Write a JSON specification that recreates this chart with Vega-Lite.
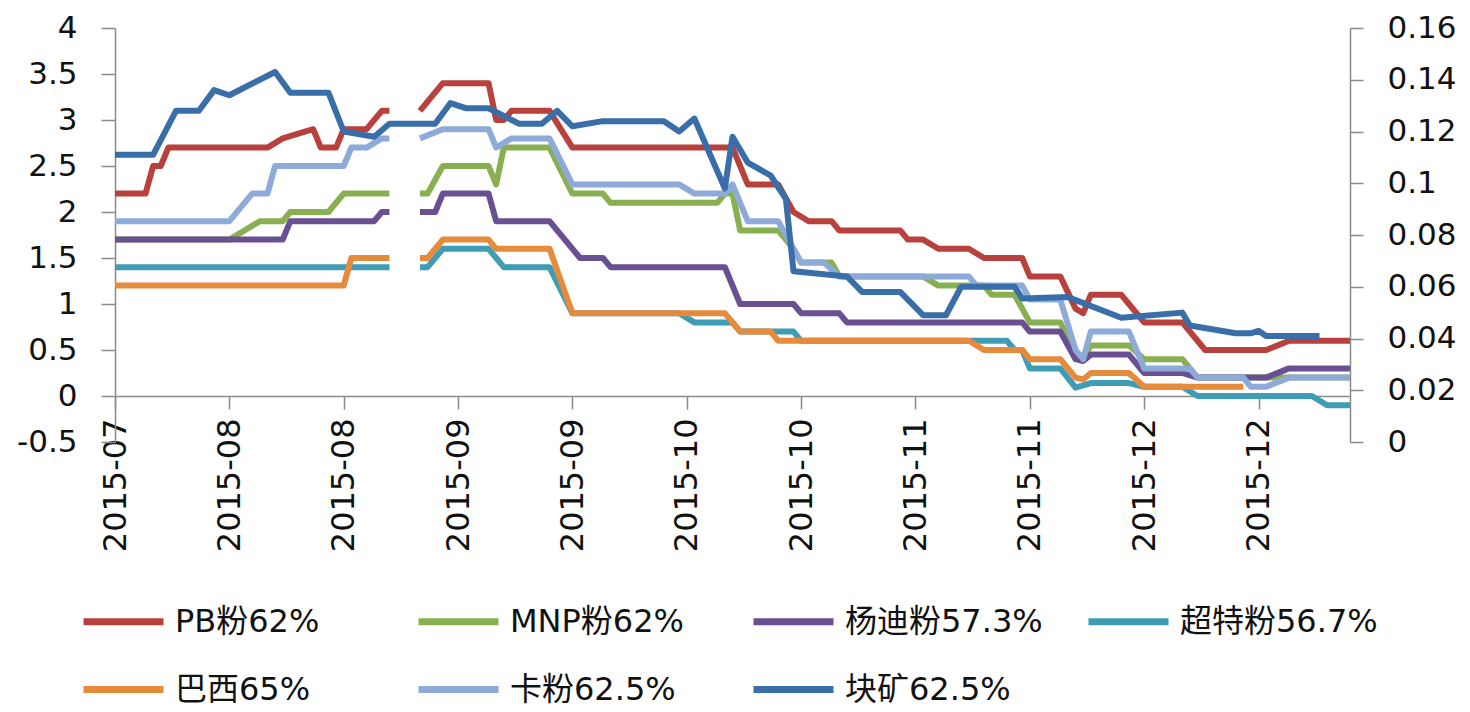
{
  "$schema": "https://vega.github.io/schema/vega-lite/v6.json",
  "width": 1235,
  "height": 414,
  "autosize": {"type": "none"},
  "padding": {"left": 115, "top": 28, "right": 120, "bottom": 270},
  "background": "white",
  "config": {
    "view": {"stroke": null},
    "font": "DejaVu Sans, Noto Sans CJK SC",
    "axis": {"grid": false, "title": null, "domainColor": "#8a8a8a", "tickColor": "#8a8a8a", "domainWidth": 1.5, "tickWidth": 1.5, "labelColor": "#111111", "labelFont": "DejaVu Sans", "labelFontSize": 31}
  },
  "datasets": {
    "primary": [
      {"date": "2015-07-20", "series": "PB粉62%", "v": 2.2},
      {"date": "2015-07-24", "series": "PB粉62%", "v": 2.2},
      {"date": "2015-07-25", "series": "PB粉62%", "v": 2.5},
      {"date": "2015-07-26", "series": "PB粉62%", "v": 2.5},
      {"date": "2015-07-27", "series": "PB粉62%", "v": 2.7},
      {"date": "2015-08-09", "series": "PB粉62%", "v": 2.7},
      {"date": "2015-08-11", "series": "PB粉62%", "v": 2.8},
      {"date": "2015-08-15", "series": "PB粉62%", "v": 2.9},
      {"date": "2015-08-16", "series": "PB粉62%", "v": 2.7},
      {"date": "2015-08-18", "series": "PB粉62%", "v": 2.7},
      {"date": "2015-08-19", "series": "PB粉62%", "v": 2.9},
      {"date": "2015-08-22", "series": "PB粉62%", "v": 2.9},
      {"date": "2015-08-24", "series": "PB粉62%", "v": 3.1},
      {"date": "2015-08-25", "series": "PB粉62%", "v": 3.1},
      {"date": "2015-08-27", "series": "PB粉62%", "v": null},
      {"date": "2015-08-29", "series": "PB粉62%", "v": 3.1},
      {"date": "2015-09-01", "series": "PB粉62%", "v": 3.4},
      {"date": "2015-09-07", "series": "PB粉62%", "v": 3.4},
      {"date": "2015-09-08", "series": "PB粉62%", "v": 3.0},
      {"date": "2015-09-09", "series": "PB粉62%", "v": 3.0},
      {"date": "2015-09-10", "series": "PB粉62%", "v": 3.1},
      {"date": "2015-09-15", "series": "PB粉62%", "v": 3.1},
      {"date": "2015-09-18", "series": "PB粉62%", "v": 2.7},
      {"date": "2015-10-09", "series": "PB粉62%", "v": 2.7},
      {"date": "2015-10-11", "series": "PB粉62%", "v": 2.3},
      {"date": "2015-10-15", "series": "PB粉62%", "v": 2.3},
      {"date": "2015-10-17", "series": "PB粉62%", "v": 2.0},
      {"date": "2015-10-19", "series": "PB粉62%", "v": 1.9},
      {"date": "2015-10-22", "series": "PB粉62%", "v": 1.9},
      {"date": "2015-10-23", "series": "PB粉62%", "v": 1.8},
      {"date": "2015-10-31", "series": "PB粉62%", "v": 1.8},
      {"date": "2015-11-01", "series": "PB粉62%", "v": 1.7},
      {"date": "2015-11-03", "series": "PB粉62%", "v": 1.7},
      {"date": "2015-11-05", "series": "PB粉62%", "v": 1.6},
      {"date": "2015-11-09", "series": "PB粉62%", "v": 1.6},
      {"date": "2015-11-11", "series": "PB粉62%", "v": 1.5},
      {"date": "2015-11-16", "series": "PB粉62%", "v": 1.5},
      {"date": "2015-11-17", "series": "PB粉62%", "v": 1.3},
      {"date": "2015-11-21", "series": "PB粉62%", "v": 1.3},
      {"date": "2015-11-23", "series": "PB粉62%", "v": 0.95},
      {"date": "2015-11-24", "series": "PB粉62%", "v": 0.9},
      {"date": "2015-11-25", "series": "PB粉62%", "v": 1.1},
      {"date": "2015-11-29", "series": "PB粉62%", "v": 1.1},
      {"date": "2015-11-30", "series": "PB粉62%", "v": 1.0},
      {"date": "2015-12-02", "series": "PB粉62%", "v": 0.8},
      {"date": "2015-12-07", "series": "PB粉62%", "v": 0.8},
      {"date": "2015-12-10", "series": "PB粉62%", "v": 0.5},
      {"date": "2015-12-18", "series": "PB粉62%", "v": 0.5},
      {"date": "2015-12-21", "series": "PB粉62%", "v": 0.6},
      {"date": "2015-12-29", "series": "PB粉62%", "v": 0.6},

      {"date": "2015-07-20", "series": "MNP粉62%", "v": 1.7},
      {"date": "2015-08-04", "series": "MNP粉62%", "v": 1.7},
      {"date": "2015-08-08", "series": "MNP粉62%", "v": 1.9},
      {"date": "2015-08-11", "series": "MNP粉62%", "v": 1.9},
      {"date": "2015-08-12", "series": "MNP粉62%", "v": 2.0},
      {"date": "2015-08-17", "series": "MNP粉62%", "v": 2.0},
      {"date": "2015-08-19", "series": "MNP粉62%", "v": 2.2},
      {"date": "2015-08-25", "series": "MNP粉62%", "v": 2.2},
      {"date": "2015-08-27", "series": "MNP粉62%", "v": null},
      {"date": "2015-08-29", "series": "MNP粉62%", "v": 2.2},
      {"date": "2015-08-30", "series": "MNP粉62%", "v": 2.2},
      {"date": "2015-09-01", "series": "MNP粉62%", "v": 2.5},
      {"date": "2015-09-07", "series": "MNP粉62%", "v": 2.5},
      {"date": "2015-09-08", "series": "MNP粉62%", "v": 2.3},
      {"date": "2015-09-09", "series": "MNP粉62%", "v": 2.7},
      {"date": "2015-09-15", "series": "MNP粉62%", "v": 2.7},
      {"date": "2015-09-18", "series": "MNP粉62%", "v": 2.2},
      {"date": "2015-09-22", "series": "MNP粉62%", "v": 2.2},
      {"date": "2015-09-23", "series": "MNP粉62%", "v": 2.1},
      {"date": "2015-10-07", "series": "MNP粉62%", "v": 2.1},
      {"date": "2015-10-08", "series": "MNP粉62%", "v": 2.2},
      {"date": "2015-10-09", "series": "MNP粉62%", "v": 2.2},
      {"date": "2015-10-10", "series": "MNP粉62%", "v": 1.8},
      {"date": "2015-10-15", "series": "MNP粉62%", "v": 1.8},
      {"date": "2015-10-17", "series": "MNP粉62%", "v": 1.6},
      {"date": "2015-10-18", "series": "MNP粉62%", "v": 1.45},
      {"date": "2015-10-22", "series": "MNP粉62%", "v": 1.45},
      {"date": "2015-10-23", "series": "MNP粉62%", "v": 1.3},
      {"date": "2015-11-03", "series": "MNP粉62%", "v": 1.3},
      {"date": "2015-11-05", "series": "MNP粉62%", "v": 1.2},
      {"date": "2015-11-11", "series": "MNP粉62%", "v": 1.2},
      {"date": "2015-11-12", "series": "MNP粉62%", "v": 1.1},
      {"date": "2015-11-15", "series": "MNP粉62%", "v": 1.1},
      {"date": "2015-11-17", "series": "MNP粉62%", "v": 0.8},
      {"date": "2015-11-21", "series": "MNP粉62%", "v": 0.8},
      {"date": "2015-11-23", "series": "MNP粉62%", "v": 0.45},
      {"date": "2015-11-24", "series": "MNP粉62%", "v": 0.4},
      {"date": "2015-11-25", "series": "MNP粉62%", "v": 0.55},
      {"date": "2015-11-30", "series": "MNP粉62%", "v": 0.55},
      {"date": "2015-12-02", "series": "MNP粉62%", "v": 0.4},
      {"date": "2015-12-07", "series": "MNP粉62%", "v": 0.4},
      {"date": "2015-12-09", "series": "MNP粉62%", "v": 0.2},
      {"date": "2015-12-29", "series": "MNP粉62%", "v": 0.2},

      {"date": "2015-07-20", "series": "杨迪粉57.3%", "v": 1.7},
      {"date": "2015-08-11", "series": "杨迪粉57.3%", "v": 1.7},
      {"date": "2015-08-12", "series": "杨迪粉57.3%", "v": 1.9},
      {"date": "2015-08-23", "series": "杨迪粉57.3%", "v": 1.9},
      {"date": "2015-08-24", "series": "杨迪粉57.3%", "v": 2.0},
      {"date": "2015-08-25", "series": "杨迪粉57.3%", "v": 2.0},
      {"date": "2015-08-27", "series": "杨迪粉57.3%", "v": null},
      {"date": "2015-08-29", "series": "杨迪粉57.3%", "v": 2.0},
      {"date": "2015-08-31", "series": "杨迪粉57.3%", "v": 2.0},
      {"date": "2015-09-01", "series": "杨迪粉57.3%", "v": 2.2},
      {"date": "2015-09-07", "series": "杨迪粉57.3%", "v": 2.2},
      {"date": "2015-09-08", "series": "杨迪粉57.3%", "v": 1.9},
      {"date": "2015-09-15", "series": "杨迪粉57.3%", "v": 1.9},
      {"date": "2015-09-19", "series": "杨迪粉57.3%", "v": 1.5},
      {"date": "2015-09-22", "series": "杨迪粉57.3%", "v": 1.5},
      {"date": "2015-09-23", "series": "杨迪粉57.3%", "v": 1.4},
      {"date": "2015-10-08", "series": "杨迪粉57.3%", "v": 1.4},
      {"date": "2015-10-10", "series": "杨迪粉57.3%", "v": 1.0},
      {"date": "2015-10-17", "series": "杨迪粉57.3%", "v": 1.0},
      {"date": "2015-10-18", "series": "杨迪粉57.3%", "v": 0.9},
      {"date": "2015-10-23", "series": "杨迪粉57.3%", "v": 0.9},
      {"date": "2015-10-24", "series": "杨迪粉57.3%", "v": 0.8},
      {"date": "2015-11-16", "series": "杨迪粉57.3%", "v": 0.8},
      {"date": "2015-11-17", "series": "杨迪粉57.3%", "v": 0.7},
      {"date": "2015-11-21", "series": "杨迪粉57.3%", "v": 0.7},
      {"date": "2015-11-23", "series": "杨迪粉57.3%", "v": 0.4},
      {"date": "2015-11-24", "series": "杨迪粉57.3%", "v": 0.38},
      {"date": "2015-11-25", "series": "杨迪粉57.3%", "v": 0.45},
      {"date": "2015-11-30", "series": "杨迪粉57.3%", "v": 0.45},
      {"date": "2015-12-02", "series": "杨迪粉57.3%", "v": 0.25},
      {"date": "2015-12-07", "series": "杨迪粉57.3%", "v": 0.25},
      {"date": "2015-12-09", "series": "杨迪粉57.3%", "v": 0.2},
      {"date": "2015-12-18", "series": "杨迪粉57.3%", "v": 0.2},
      {"date": "2015-12-21", "series": "杨迪粉57.3%", "v": 0.3},
      {"date": "2015-12-29", "series": "杨迪粉57.3%", "v": 0.3},

      {"date": "2015-07-20", "series": "超特粉56.7%", "v": 1.4},
      {"date": "2015-08-25", "series": "超特粉56.7%", "v": 1.4},
      {"date": "2015-08-27", "series": "超特粉56.7%", "v": null},
      {"date": "2015-08-29", "series": "超特粉56.7%", "v": 1.4},
      {"date": "2015-08-30", "series": "超特粉56.7%", "v": 1.4},
      {"date": "2015-09-01", "series": "超特粉56.7%", "v": 1.6},
      {"date": "2015-09-07", "series": "超特粉56.7%", "v": 1.6},
      {"date": "2015-09-09", "series": "超特粉56.7%", "v": 1.4},
      {"date": "2015-09-15", "series": "超特粉56.7%", "v": 1.4},
      {"date": "2015-09-18", "series": "超特粉56.7%", "v": 0.9},
      {"date": "2015-10-02", "series": "超特粉56.7%", "v": 0.9},
      {"date": "2015-10-04", "series": "超特粉56.7%", "v": 0.8},
      {"date": "2015-10-09", "series": "超特粉56.7%", "v": 0.8},
      {"date": "2015-10-10", "series": "超特粉56.7%", "v": 0.7},
      {"date": "2015-10-17", "series": "超特粉56.7%", "v": 0.7},
      {"date": "2015-10-18", "series": "超特粉56.7%", "v": 0.6},
      {"date": "2015-11-14", "series": "超特粉56.7%", "v": 0.6},
      {"date": "2015-11-15", "series": "超特粉56.7%", "v": 0.5},
      {"date": "2015-11-16", "series": "超特粉56.7%", "v": 0.5},
      {"date": "2015-11-17", "series": "超特粉56.7%", "v": 0.3},
      {"date": "2015-11-21", "series": "超特粉56.7%", "v": 0.3},
      {"date": "2015-11-23", "series": "超特粉56.7%", "v": 0.09},
      {"date": "2015-11-25", "series": "超特粉56.7%", "v": 0.14},
      {"date": "2015-11-30", "series": "超特粉56.7%", "v": 0.14},
      {"date": "2015-12-02", "series": "超特粉56.7%", "v": 0.1},
      {"date": "2015-12-07", "series": "超特粉56.7%", "v": 0.1},
      {"date": "2015-12-09", "series": "超特粉56.7%", "v": 0.0},
      {"date": "2015-12-24", "series": "超特粉56.7%", "v": 0.0},
      {"date": "2015-12-26", "series": "超特粉56.7%", "v": -0.1},
      {"date": "2015-12-29", "series": "超特粉56.7%", "v": -0.1},

      {"date": "2015-07-20", "series": "巴西65%", "v": 1.2},
      {"date": "2015-08-19", "series": "巴西65%", "v": 1.2},
      {"date": "2015-08-20", "series": "巴西65%", "v": 1.5},
      {"date": "2015-08-25", "series": "巴西65%", "v": 1.5},
      {"date": "2015-08-27", "series": "巴西65%", "v": null},
      {"date": "2015-08-29", "series": "巴西65%", "v": 1.5},
      {"date": "2015-08-30", "series": "巴西65%", "v": 1.5},
      {"date": "2015-09-01", "series": "巴西65%", "v": 1.7},
      {"date": "2015-09-07", "series": "巴西65%", "v": 1.7},
      {"date": "2015-09-08", "series": "巴西65%", "v": 1.6},
      {"date": "2015-09-15", "series": "巴西65%", "v": 1.6},
      {"date": "2015-09-18", "series": "巴西65%", "v": 0.9},
      {"date": "2015-10-08", "series": "巴西65%", "v": 0.9},
      {"date": "2015-10-10", "series": "巴西65%", "v": 0.7},
      {"date": "2015-10-14", "series": "巴西65%", "v": 0.7},
      {"date": "2015-10-15", "series": "巴西65%", "v": 0.6},
      {"date": "2015-11-09", "series": "巴西65%", "v": 0.6},
      {"date": "2015-11-11", "series": "巴西65%", "v": 0.5},
      {"date": "2015-11-16", "series": "巴西65%", "v": 0.5},
      {"date": "2015-11-17", "series": "巴西65%", "v": 0.4},
      {"date": "2015-11-21", "series": "巴西65%", "v": 0.4},
      {"date": "2015-11-23", "series": "巴西65%", "v": 0.2},
      {"date": "2015-11-24", "series": "巴西65%", "v": 0.18},
      {"date": "2015-11-25", "series": "巴西65%", "v": 0.25},
      {"date": "2015-11-30", "series": "巴西65%", "v": 0.25},
      {"date": "2015-12-02", "series": "巴西65%", "v": 0.1},
      {"date": "2015-12-15", "series": "巴西65%", "v": 0.1},

      {"date": "2015-07-20", "series": "卡粉62.5%", "v": 1.9},
      {"date": "2015-08-04", "series": "卡粉62.5%", "v": 1.9},
      {"date": "2015-08-07", "series": "卡粉62.5%", "v": 2.2},
      {"date": "2015-08-09", "series": "卡粉62.5%", "v": 2.2},
      {"date": "2015-08-10", "series": "卡粉62.5%", "v": 2.5},
      {"date": "2015-08-19", "series": "卡粉62.5%", "v": 2.5},
      {"date": "2015-08-20", "series": "卡粉62.5%", "v": 2.7},
      {"date": "2015-08-22", "series": "卡粉62.5%", "v": 2.7},
      {"date": "2015-08-24", "series": "卡粉62.5%", "v": 2.8},
      {"date": "2015-08-25", "series": "卡粉62.5%", "v": 2.8},
      {"date": "2015-08-27", "series": "卡粉62.5%", "v": null},
      {"date": "2015-08-29", "series": "卡粉62.5%", "v": 2.8},
      {"date": "2015-09-01", "series": "卡粉62.5%", "v": 2.9},
      {"date": "2015-09-07", "series": "卡粉62.5%", "v": 2.9},
      {"date": "2015-09-08", "series": "卡粉62.5%", "v": 2.7},
      {"date": "2015-09-10", "series": "卡粉62.5%", "v": 2.8},
      {"date": "2015-09-15", "series": "卡粉62.5%", "v": 2.8},
      {"date": "2015-09-18", "series": "卡粉62.5%", "v": 2.3},
      {"date": "2015-10-02", "series": "卡粉62.5%", "v": 2.3},
      {"date": "2015-10-04", "series": "卡粉62.5%", "v": 2.2},
      {"date": "2015-10-08", "series": "卡粉62.5%", "v": 2.2},
      {"date": "2015-10-09", "series": "卡粉62.5%", "v": 2.3},
      {"date": "2015-10-11", "series": "卡粉62.5%", "v": 1.9},
      {"date": "2015-10-15", "series": "卡粉62.5%", "v": 1.9},
      {"date": "2015-10-18", "series": "卡粉62.5%", "v": 1.45},
      {"date": "2015-10-21", "series": "卡粉62.5%", "v": 1.45},
      {"date": "2015-10-23", "series": "卡粉62.5%", "v": 1.3},
      {"date": "2015-11-09", "series": "卡粉62.5%", "v": 1.3},
      {"date": "2015-11-10", "series": "卡粉62.5%", "v": 1.2},
      {"date": "2015-11-16", "series": "卡粉62.5%", "v": 1.2},
      {"date": "2015-11-17", "series": "卡粉62.5%", "v": 1.05},
      {"date": "2015-11-21", "series": "卡粉62.5%", "v": 1.05},
      {"date": "2015-11-23", "series": "卡粉62.5%", "v": 0.5},
      {"date": "2015-11-24", "series": "卡粉62.5%", "v": 0.4},
      {"date": "2015-11-25", "series": "卡粉62.5%", "v": 0.7},
      {"date": "2015-11-30", "series": "卡粉62.5%", "v": 0.7},
      {"date": "2015-12-02", "series": "卡粉62.5%", "v": 0.3},
      {"date": "2015-12-08", "series": "卡粉62.5%", "v": 0.3},
      {"date": "2015-12-09", "series": "卡粉62.5%", "v": 0.2},
      {"date": "2015-12-15", "series": "卡粉62.5%", "v": 0.2},
      {"date": "2015-12-16", "series": "卡粉62.5%", "v": 0.1},
      {"date": "2015-12-18", "series": "卡粉62.5%", "v": 0.1},
      {"date": "2015-12-21", "series": "卡粉62.5%", "v": 0.2},
      {"date": "2015-12-29", "series": "卡粉62.5%", "v": 0.2}
    ],
    "block": [
      {"date": "2015-07-20", "series": "块矿62.5%", "v": 0.111},
      {"date": "2015-07-25", "series": "块矿62.5%", "v": 0.111},
      {"date": "2015-07-28", "series": "块矿62.5%", "v": 0.128},
      {"date": "2015-07-31", "series": "块矿62.5%", "v": 0.128},
      {"date": "2015-08-02", "series": "块矿62.5%", "v": 0.136},
      {"date": "2015-08-04", "series": "块矿62.5%", "v": 0.134},
      {"date": "2015-08-10", "series": "块矿62.5%", "v": 0.143},
      {"date": "2015-08-12", "series": "块矿62.5%", "v": 0.135},
      {"date": "2015-08-17", "series": "块矿62.5%", "v": 0.135},
      {"date": "2015-08-19", "series": "块矿62.5%", "v": 0.12},
      {"date": "2015-08-23", "series": "块矿62.5%", "v": 0.118},
      {"date": "2015-08-25", "series": "块矿62.5%", "v": 0.123},
      {"date": "2015-08-31", "series": "块矿62.5%", "v": 0.123},
      {"date": "2015-09-02", "series": "块矿62.5%", "v": 0.131},
      {"date": "2015-09-04", "series": "块矿62.5%", "v": 0.129},
      {"date": "2015-09-07", "series": "块矿62.5%", "v": 0.129},
      {"date": "2015-09-11", "series": "块矿62.5%", "v": 0.123},
      {"date": "2015-09-14", "series": "块矿62.5%", "v": 0.123},
      {"date": "2015-09-16", "series": "块矿62.5%", "v": 0.128},
      {"date": "2015-09-18", "series": "块矿62.5%", "v": 0.122},
      {"date": "2015-09-22", "series": "块矿62.5%", "v": 0.124},
      {"date": "2015-09-30", "series": "块矿62.5%", "v": 0.124},
      {"date": "2015-10-02", "series": "块矿62.5%", "v": 0.12},
      {"date": "2015-10-04", "series": "块矿62.5%", "v": 0.125},
      {"date": "2015-10-08", "series": "块矿62.5%", "v": 0.098},
      {"date": "2015-10-09", "series": "块矿62.5%", "v": 0.118},
      {"date": "2015-10-11", "series": "块矿62.5%", "v": 0.108},
      {"date": "2015-10-14", "series": "块矿62.5%", "v": 0.103},
      {"date": "2015-10-16", "series": "块矿62.5%", "v": 0.094},
      {"date": "2015-10-17", "series": "块矿62.5%", "v": 0.066},
      {"date": "2015-10-24", "series": "块矿62.5%", "v": 0.064},
      {"date": "2015-10-26", "series": "块矿62.5%", "v": 0.058},
      {"date": "2015-10-31", "series": "块矿62.5%", "v": 0.058},
      {"date": "2015-11-03", "series": "块矿62.5%", "v": 0.049},
      {"date": "2015-11-06", "series": "块矿62.5%", "v": 0.049},
      {"date": "2015-11-08", "series": "块矿62.5%", "v": 0.06},
      {"date": "2015-11-15", "series": "块矿62.5%", "v": 0.06},
      {"date": "2015-11-16", "series": "块矿62.5%", "v": 0.0555},
      {"date": "2015-11-22", "series": "块矿62.5%", "v": 0.056},
      {"date": "2015-11-29", "series": "块矿62.5%", "v": 0.048},
      {"date": "2015-12-07", "series": "块矿62.5%", "v": 0.05},
      {"date": "2015-12-08", "series": "块矿62.5%", "v": 0.045},
      {"date": "2015-12-14", "series": "块矿62.5%", "v": 0.042},
      {"date": "2015-12-16", "series": "块矿62.5%", "v": 0.042},
      {"date": "2015-12-17", "series": "块矿62.5%", "v": 0.043},
      {"date": "2015-12-18", "series": "块矿62.5%", "v": 0.041},
      {"date": "2015-12-25", "series": "块矿62.5%", "v": 0.041}
    ]
  },
  "encoding": {
    "x": {
      "field": "date",
      "type": "temporal",
      "scale": {
        "type": "utc",
        "domain": [
          {"year": 2015, "month": 7, "date": 20, "utc": true},
          {"year": 2015, "month": 12, "date": 29, "utc": true}
        ]
      },
      "axis": {
        "orient": "bottom",
        "offset": -46,
        "values": [
          {"year": 2015, "month": 7, "date": 20, "utc": true},
          {"year": 2015, "month": 8, "date": 4, "utc": true},
          {"year": 2015, "month": 8, "date": 19, "utc": true},
          {"year": 2015, "month": 9, "date": 3, "utc": true},
          {"year": 2015, "month": 9, "date": 18, "utc": true},
          {"year": 2015, "month": 10, "date": 3, "utc": true},
          {"year": 2015, "month": 10, "date": 18, "utc": true},
          {"year": 2015, "month": 11, "date": 2, "utc": true},
          {"year": 2015, "month": 11, "date": 17, "utc": true},
          {"year": 2015, "month": 12, "date": 2, "utc": true},
          {"year": 2015, "month": 12, "date": 17, "utc": true}
        ],
        "format": "%Y-%m",
        "labelAngle": -90,
        "tickSize": 13,
        "labelPadding": 9,
        "labelFontSize": 32,
        "labelFlush": false,
        "labelOverlap": false,
        "labelBound": false
      }
    }
  },
  "layer": [
    {
      "data": {"name": "primary"},
      "mark": {"type": "line", "strokeWidth": 6, "strokeJoin": "round", "strokeCap": "butt"},
      "encoding": {
        "y": {
          "field": "v",
          "type": "quantitative",
          "scale": {"domain": [-0.5, 4], "nice": false, "zero": false},
          "axis": {
            "orient": "left",
            "values": [-0.5, 0, 0.5, 1, 1.5, 2, 2.5, 3, 3.5, 4],
            "labelExpr": "datum.value < 0 ? '-' + format(-datum.value, '.1~f') : format(datum.value, '.1~f')",
            "tickSize": 14,
            "labelPadding": 24
          }
        },
        "color": {
          "field": "series",
          "type": "nominal",
          "scale": {
            "domain": ["PB粉62%", "MNP粉62%", "杨迪粉57.3%", "超特粉56.7%", "巴西65%", "卡粉62.5%", "块矿62.5%"],
            "range": ["#B8413E", "#89B050", "#6A5092", "#3F9CB5", "#E68A3C", "#8EAAD8", "#3A6EA9"]
          },
          "legend": {
            "title": null,
            "orient": "none",
            "legendX": -35,
            "legendY": 550,
            "direction": "horizontal",
            "columns": 4,
            "gridAlign": "all",
            "symbolType": "stroke",
            "symbolSize": 6400,
            "symbolStrokeWidth": 7,
            "labelFontSize": 32,
            "labelFont": "DejaVu Sans, Noto Sans CJK SC",
            "labelColor": "#111111",
            "labelOffset": 8,
            "labelLimit": 500,
            "columnPadding": 31,
            "rowPadding": 8,
            "padding": 0
          }
        }
      }
    },
    {
      "data": {"name": "block"},
      "mark": {"type": "line", "strokeWidth": 6, "strokeJoin": "round", "strokeCap": "butt"},
      "encoding": {
        "y": {
          "field": "v",
          "type": "quantitative",
          "scale": {"domain": [0, 0.16], "nice": false},
          "axis": {
            "orient": "right",
            "values": [0, 0.02, 0.04, 0.06, 0.08, 0.1, 0.12, 0.14, 0.16],
            "format": ".2~f",
            "tickSize": 13,
            "labelPadding": 24
          }
        },
        "color": {"field": "series", "type": "nominal"}
      }
    }
  ],
  "resolve": {"scale": {"y": "independent"}}
}
